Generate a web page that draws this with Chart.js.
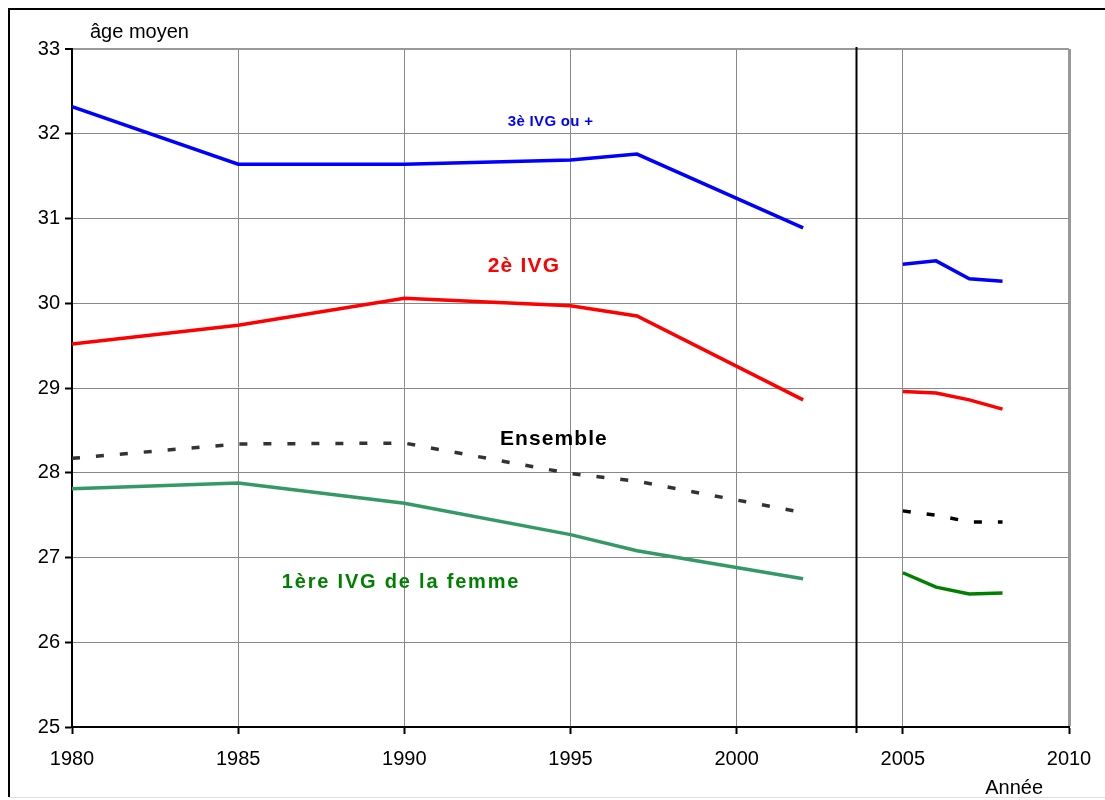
<!DOCTYPE html>
<html>
<head>
<meta charset="utf-8">
<script src="https://cdn.jsdelivr.net/npm/chart.js@4/dist/chart.umd.min.js"></script>
<style>
html,body{margin:0;padding:0;background:#fff;}
#wrap{position:relative;width:1105px;height:800px;}
</style>
</head>
<body>
<div id="wrap"><canvas id="c" width="1105" height="800"></canvas></div>
<script>
// Years (two periods, separated by a break)
const yearsA = [1980, 1985, 1990, 1995, 1997, 2002];
const yearsB = [2005, 2006, 2007, 2008];

// Mean age at IVG
const troisiemeA = [32.32, 31.64, 31.64, 31.69, 31.76, 30.89];
const troisiemeB = [30.46, 30.50, 30.29, 30.26];
const deuxiemeA  = [29.52, 29.74, 30.06, 29.97, 29.85, 28.86];
const deuxiemeB  = [28.96, 28.94, 28.86, 28.75];
const ensembleA  = [28.17, 28.34, 28.35, 27.99, 27.90, 27.53];
const ensembleB  = [27.55, 27.50, 27.42, 27.42];
const premiereA  = [27.81, 27.88, 27.64, 27.27, 27.08, 26.75];
const premiereB  = [26.82, 26.65, 26.57, 26.58];

// Axis ticks
const xTicks = [1980, 1985, 1990, 1995, 2000, 2005, 2010];
const yTicks = [25, 26, 27, 28, 29, 30, 31, 32, 33];
const breakYear = 2003.6;

// Series labels (text, anchor in data coordinates)
const seriesLabels = [
  {text: '3è IVG ou +', x: 1994.4, y: 32.14, color: '#0000FF', size: 15, sp: 0.3},
  {text: '2è IVG', x: 1993.6, y: 30.44, color: '#FF0000', size: 21, sp: 1.2},
  {text: 'Ensemble', x: 1994.5, y: 28.40, color: '#000000', size: 21, sp: 1.1},
  {text: '1ère IVG de la femme', x: 1989.9, y: 26.70, color: '#008000', size: 20, sp: 1.8}
];

const FONT = '"Liberation Sans", Arial, sans-serif';

function pts(xs, ys){ return xs.map((x,i)=>({x:x, y:ys[i]})); }
function ds(label, xs, ys, color, dash){
  return {label, data: pts(xs, ys), borderColor: color, backgroundColor: color,
    borderWidth: 3.5, pointRadius: 0, showLine: true, tension: 0,
    borderDash: dash || [], borderCapStyle: 'butt', borderJoinStyle: 'miter'};
}

const framePlugin = {
  id: 'frame',
  beforeDraw(chart){
    const ctx = chart.ctx;
    ctx.save();
    ctx.fillStyle = '#fff';
    ctx.fillRect(0,0,chart.width,chart.height);
    ctx.strokeStyle = '#000';
    ctx.lineWidth = 2;
    ctx.beginPath();
    ctx.moveTo(9, 797);
    ctx.lineTo(9, 9);
    ctx.lineTo(1105, 9);
    ctx.stroke();
    ctx.strokeStyle = '#e0e0e0';
    ctx.lineWidth = 1;
    ctx.beginPath();
    ctx.moveTo(9, 797.5);
    ctx.lineTo(1105, 797.5);
    ctx.stroke();
    ctx.restore();
  },
  afterDatasetsDraw(chart){
    const ctx = chart.ctx;
    const xs = chart.scales.x, ys = chart.scales.y;
    const ca = chart.chartArea;
    ctx.save();
    // break line
    const bx = Math.round(xs.getPixelForValue(breakYear)) + 0.5;
    ctx.strokeStyle = '#000';
    ctx.lineWidth = 2;
    ctx.beginPath();
    ctx.moveTo(bx, ca.top - 2);
    ctx.lineTo(bx, ca.bottom + 6);
    ctx.stroke();
    // series labels
    ctx.textAlign = 'center';
    ctx.textBaseline = 'middle';
    seriesLabels.forEach(l=>{
      ctx.fillStyle = l.color;
      ctx.font = 'bold ' + l.size + 'px ' + FONT;
      try { ctx.letterSpacing = l.sp + 'px'; } catch(e){}
      ctx.fillText(l.text, xs.getPixelForValue(l.x), ys.getPixelForValue(l.y));
    });
    try { ctx.letterSpacing = '0px'; } catch(e){}
    // axis titles
    ctx.fillStyle = '#000';
    ctx.font = '20px ' + FONT;
    ctx.textAlign = 'left';
    ctx.textBaseline = 'alphabetic';
    ctx.fillText('âge moyen', ca.left + 18, ca.top - 11);
    ctx.textAlign = 'right';
    ctx.fillText('Année', ca.right - 26, 794);
    ctx.restore();
  }
};

new Chart(document.getElementById('c'), {
  type: 'scatter',
  data: {
    datasets: [
      ds('3è IVG ou +', yearsA, troisiemeA, '#0000FF'),
      ds('3è IVG ou + (b)', yearsB, troisiemeB, '#0000FF'),
      ds('2è IVG', yearsA, deuxiemeA, '#FF0000'),
      ds('2è IVG (b)', yearsB, deuxiemeB, '#FF0000'),
      ds('Ensemble', yearsA, ensembleA, '#333333', [8, 16]),
      ds('Ensemble (b)', yearsB, ensembleB, '#000000', [8, 16]),
      ds('1ère IVG de la femme', yearsA, premiereA, '#339966'),
      ds('1ère IVG de la femme (b)', yearsB, premiereB, '#008000')
    ]
  },
  options: {
    responsive: false,
    animation: false,
    devicePixelRatio: 1,
    layout: {padding: {top: 49, right: 36, left: 0, bottom: 0}},
    plugins: {legend: {display: false}, tooltip: {enabled: false}},
    scales: {
      x: {
        type: 'linear', min: 1980, max: 2010,
        afterBuildTicks(s){ s.ticks = xTicks.map(v=>({value:v})); },
        afterFit(s){ s.height = 73; },
        grid: {color: (c)=> c.tick && c.tick.value === 2010 ? '#999' : '#888',
               lineWidth: (c)=> c.tick && c.tick.value === 2010 ? 3 : 1,
               borderDash: [2, 2], drawTicks: true, tickLength: 7, tickColor: '#000',
               tickBorderDash: [], tickWidth: 2},
        border: {display: true, color: '#000', width: 2},
        ticks: {color: '#000', font: {family: FONT, size: 20}, padding: 13,
                maxRotation: 0, autoSkip: false, callback: v=>String(v)}
      },
      y: {
        type: 'linear', min: 25, max: 33,
        afterBuildTicks(s){ s.ticks = yTicks.map(v=>({value:v})); },
        afterFit(s){ s.width = 72; },
        grid: {color: (c)=> c.tick && c.tick.value === 33 ? '#999' : '#888',
               lineWidth: (c)=> c.tick && c.tick.value === 33 ? 2 : 1,
               borderDash: [2, 2], drawTicks: true, tickLength: 7, tickColor: '#000',
               tickBorderDash: [], tickWidth: 2},
        border: {display: true, color: '#000', width: 2},
        ticks: {color: '#000', font: {family: FONT, size: 20}, padding: 5,
                callback: v=>String(v)}
      }
    }
  },
  plugins: [framePlugin]
});
</script>
</body>
</html>
